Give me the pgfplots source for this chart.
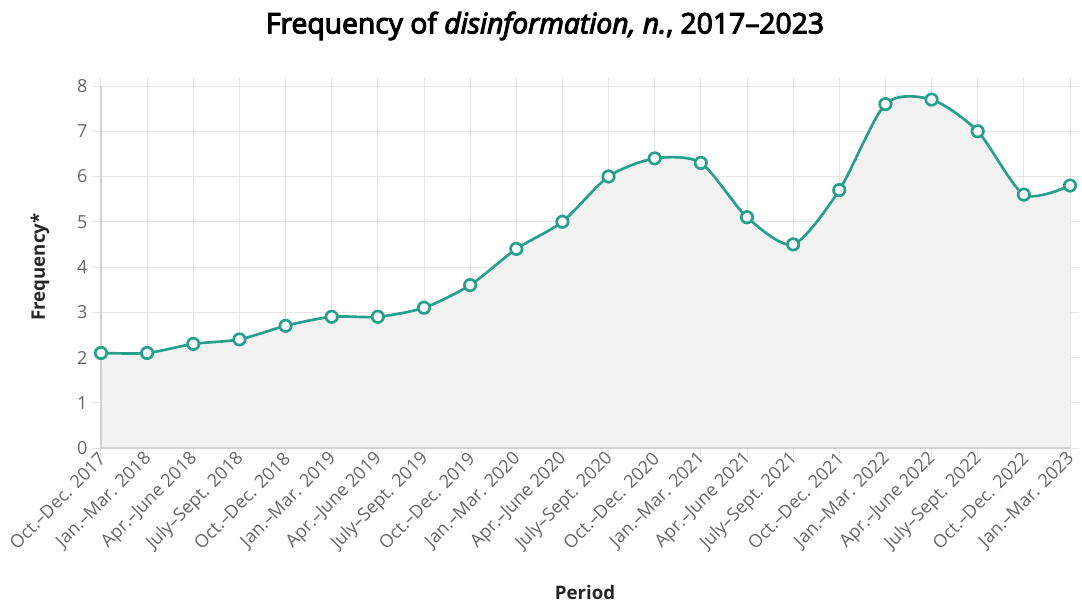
\documentclass[border=0pt]{standalone}
\usepackage{fontspec}
\setmainfont{Open Sans}
\usepackage{pgfplots}
\pgfplotsset{compat=1.18}
\definecolor{lineteal}{RGB}{38,160,140}
\definecolor{areagray}{RGB}{242,242,242}
\definecolor{gridgray}{RGB}{230,230,230}
\definecolor{tickgray}{RGB}{102,102,102}
\newcommand{\semibold}[1]{\special{pdf:literal direct 2 Tr 0.8 w}#1\special{pdf:literal direct 0 Tr}}
\begin{document}
\begin{tikzpicture}[x=1pt,y=1pt]
\useasboundingbox (-75.75pt,-116.25pt) rectangle (735.75pt,336pt);
\begin{axis}[
  scale only axis,
  width=726.75pt, height=271.5pt,
  xmin=0, xmax=21, ymin=0, ymax=8,
  xtick={0,...,21},
  xticklabels={Oct.–Dec. 2017,Jan.–Mar. 2018,Apr.–June 2018,July–Sept. 2018,Oct.–Dec. 2018,Jan.–Mar. 2019,Apr.–June 2019,July–Sept. 2019,Oct.–Dec. 2019,Jan.–Mar. 2020,Apr.–June 2020,July–Sept. 2020,Oct.–Dec. 2020,Jan.–Mar. 2021,Apr.–June 2021,July–Sept. 2021,Oct.–Dec. 2021,Jan.–Mar. 2022,Apr.–June 2022,July–Sept. 2022,Oct.–Dec. 2022,Jan.–Mar. 2023},
  ytick={0,...,8},
  grid=major,
  major grid style={gridgray, line width=0.75pt},
  axis line style={draw=none},
  tick align=outside,
  major tick length=7pt,
  tick style={gridgray, line width=0.75pt},
  x tick label style={rotate=45, anchor=east, font=\fontsize{13.5}{15}\selectfont, text=tickgray, inner sep=1.5pt, xshift=3pt},
  y tick label style={font=\fontsize{13.5}{15}\selectfont, text=tickgray, inner sep=3pt},
  /pgf/number format/assume math mode=true,
  xlabel={\textbf{Period}},
  ylabel={\textbf{Frequency*}},
  label style={font=\fontsize{14}{16}\selectfont, text=black!85},
  xlabel style={at={(axis description cs:0.4995,-0.398)}, anchor=center},
  ylabel style={at={(axis description cs:-0.063,0.5)}, anchor=center, rotate=0},
  clip=false,
]
\addplot[fill=areagray, draw=none, smooth, tension=0.45] coordinates {
(0,2.1)(1,2.1)(2,2.3)(3,2.4)(4,2.7)(5,2.9)(6,2.9)(7,3.1)(8,3.6)(9,4.4)(10,5.0)(11,6.0)(12,6.4)(13,6.3)(14,5.1)(15,4.5)(16,5.7)(17,7.6)(18,7.7)(19,7.0)(20,5.6)(21,5.8)
} \closedcycle;
\draw[gridgray!80!gray, line width=0.8pt] (axis cs:0,0) -- (axis cs:21,0);
\draw[gridgray!80!gray, line width=0.8pt] (axis cs:0,0) -- (axis cs:0,8);
\addplot[lineteal, line width=2pt, smooth, tension=0.45, mark=*, mark size=4.3pt, mark options={fill=white, draw=lineteal, line width=2pt}] coordinates {
(0,2.1)(1,2.1)(2,2.3)(3,2.4)(4,2.7)(5,2.9)(6,2.9)(7,3.1)(8,3.6)(9,4.4)(10,5.0)(11,6.0)(12,6.4)(13,6.3)(14,5.1)(15,4.5)(16,5.7)(17,7.6)(18,7.7)(19,7.0)(20,5.6)(21,5.8)
};
\end{axis}
\node[font=\fontsize{21.2}{23}\selectfont, text=black] at (333pt,316.5pt) {\semibold{Frequency of \textit{disinformation, n.}, 2017–2023}};
\end{tikzpicture}
\end{document}
